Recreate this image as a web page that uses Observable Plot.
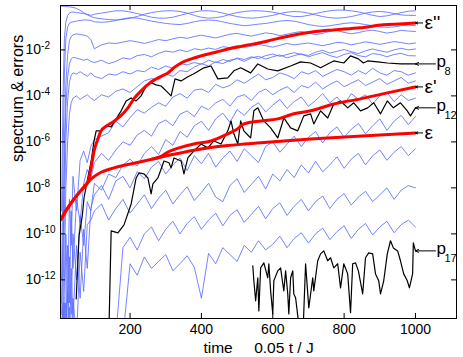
<!DOCTYPE html>
<html><head><meta charset="utf-8">
<script src="https://cdn.jsdelivr.net/npm/d3@7"></script>
<script src="https://cdn.jsdelivr.net/npm/@observablehq/plot@0.6"></script>
<style>body{margin:0;background:#fff;}</style>
</head><body><div id="chart"></div>
<script>
// common time grid for the blue spectrum lines (values are log10 of the value)
const T = [8,12,16,20,25,30,35,40,50,60,70,80,90,
 100,120,140,160,180,200,220,240,260,280,
 300,320,340,360,380,400,420,440,460,480,
 500,520,540,560,580,600,620,640,660,680,
 700,720,740,760,780,800,820,840,860,880,
 900,920,940,960,980,1000];

const p1 = [-0.1,-0.1,-0.11,-0.12,-0.12,-0.13,-0.14,-0.15,-0.2,-0.28,-0.38,-0.48,-0.55,
 -0.6,-0.65,-0.68,-0.7,-0.68,-0.62,-0.55,-0.45,-0.38,-0.33,
 -0.3,-0.3,-0.33,-0.4,-0.5,-0.58,-0.62,-0.6,-0.55,-0.45,
 -0.38,-0.33,-0.3,-0.3,-0.32,-0.36,-0.42,-0.5,-0.55,-0.55,
 -0.5,-0.42,-0.35,-0.3,-0.27,-0.27,-0.3,-0.35,-0.42,-0.5,
 -0.55,-0.52,-0.45,-0.38,-0.32,-0.3];
const p2 = [-9,-4,-1.5,-0.8,-0.5,-0.4,-0.36,-0.35,-0.38,-0.4,-0.42,-0.45,-0.5,
 -0.45,-0.4,-0.35,-0.3,-0.3,-0.35,-0.42,-0.5,-0.58,-0.62,
 -0.62,-0.58,-0.5,-0.42,-0.35,-0.3,-0.3,-0.33,-0.4,-0.48,
 -0.55,-0.6,-0.62,-0.6,-0.55,-0.5,-0.42,-0.36,-0.33,-0.35,
 -0.4,-0.48,-0.55,-0.6,-0.62,-0.6,-0.55,-0.48,-0.4,-0.35,
 -0.33,-0.36,-0.42,-0.48,-0.5,-0.5];
const p3 = [-12,-7,-3,-1.5,-1.0,-0.85,-0.8,-0.78,-0.75,-0.72,-0.7,-0.7,-0.72,
 -0.78,-0.8,-0.78,-0.72,-0.65,-0.6,-0.62,-0.68,-0.75,-0.8,
 -0.85,-0.88,-0.9,-0.85,-0.78,-0.72,-0.7,-0.72,-0.78,-0.85,
 -0.9,-0.95,-0.92,-0.88,-0.85,-0.8,-0.75,-0.72,-0.75,-0.82,
 -0.9,-0.95,-0.98,-0.95,-0.9,-0.85,-0.82,-0.85,-0.9,-0.95,
 -1.0,-1.02,-1.0,-0.95,-0.92,-0.95];
const p4 = [-13,-10,-6,-3.5,-2.2,-1.6,-1.42,-1.35,-1.3,-1.33,-1.36,-1.4,-1.55,
 -1.95,-1.78,-1.7,-1.72,-1.66,-1.6,-1.65,-1.72,-1.64,-1.55,
 -1.6,-1.52,-1.45,-1.5,-1.42,-1.36,-1.42,-1.48,-1.4,-1.32,
 -1.28,-1.35,-1.4,-1.33,-1.26,-1.3,-1.38,-1.32,-1.25,-1.2,
 -1.27,-1.34,-1.28,-1.2,-1.16,-1.24,-1.3,-1.25,-1.18,-1.14,
 -1.2,-1.27,-1.22,-1.15,-1.18,-1.2];
const p5 = [-13.5,-11,-7,-4.5,-3.2,-2.6,-2.4,-2.32,-2.36,-2.4,-2.45,-2.4,-2.5,
 -2.55,-2.45,-2.6,-2.5,-2.35,-2.4,-2.25,-2.2,-2.3,-2.15,
 -2.05,-2.1,-2.0,-2.08,-1.95,-2.0,-1.92,-1.98,-1.86,-1.9,
 -1.82,-1.88,-1.85,-1.76,-1.82,-1.88,-1.8,-1.72,-1.78,-1.74,
 -1.7,-1.76,-1.82,-1.75,-1.67,-1.7,-1.78,-1.72,-1.65,-1.7,
 -1.76,-1.7,-1.64,-1.68,-1.74,-1.7];
const p6 = [-14,-13,-9,-6,-4.2,-3.4,-3.1,-3.0,-3.05,-2.95,-3.05,-3.15,-3.0,
 -3.15,-3.25,-3.05,-3.1,-2.95,-3.05,-2.9,-2.95,-2.75,-2.85,
 -2.7,-2.8,-2.6,-2.65,-2.55,-2.62,-2.45,-2.55,-2.42,-2.5,
 -2.35,-2.42,-2.3,-2.38,-2.25,-2.18,-2.28,-2.2,-2.12,-2.2,
 -2.24,-2.1,-2.02,-2.14,-2.06,-1.98,-2.08,-2.16,-2.04,-1.96,
 -2.04,-2.1,-2.0,-1.93,-2.0,-1.96];
const p7 = [-14.5,-14,-12,-8,-6,-4.8,-4.3,-4.1,-4.0,-4.15,-4.05,-3.95,-4.1,
 -4.2,-3.95,-4.05,-3.8,-3.7,-3.85,-3.6,-3.35,-3.25,-3.3,
 -3.05,-3.15,-2.9,-2.95,-2.75,-2.6,-2.7,-2.52,-2.6,-2.45,
 -2.38,-2.5,-2.35,-2.28,-2.4,-2.3,-2.22,-2.35,-2.25,-2.17,
 -2.3,-2.2,-2.12,-2.25,-2.33,-2.2,-2.12,-2.25,-2.3,-2.16,
 -2.2,-2.3,-2.2,-2.15,-2.25,-2.26];
const p9 = [-14.5,-13,-14.5,-10,-13,-8.5,-10.5,-7.5,-9,-6.8,-6.4,-6.9,-6.2,
 -5.9,-5.75,-5.6,-5.1,-5.35,-4.95,-4.6,-4.75,-4.5,-4.3,
 -4.45,-4.05,-3.9,-4.1,-3.75,-3.7,-3.85,-3.5,-3.65,-3.55,
 -3.3,-3.45,-3.25,-3.05,-3.3,-3.2,-3.0,-3.1,-3.25,-2.95,
 -3.05,-2.9,-3.15,-3.0,-2.85,-2.95,-3.1,-2.9,-3.05,-2.8,
 -3.0,-3.1,-2.9,-2.95,-3.1,-3.0];
const p10 = [-14.5,-14.5,-13,-14.5,-10.5,-13,-9,-11.5,-8.5,-9.5,-7.8,-7.2,-7.6,
 -6.9,-6.5,-6.8,-6.35,-6.0,-6.15,-5.7,-5.5,-5.75,-5.2,
 -5.05,-5.3,-4.8,-4.65,-4.9,-4.45,-4.6,-4.3,-4.15,-4.45,
 -4.05,-3.95,-4.2,-3.85,-3.7,-3.95,-3.75,-3.6,-3.85,-3.55,
 -3.65,-3.4,-3.7,-3.5,-3.35,-3.6,-3.45,-3.3,-3.55,-3.4,
 -3.25,-3.5,-3.35,-3.2,-3.45,-3.35];
const p11 = [-14.5,-14.5,-14.5,-13,-14.5,-11,-13.5,-10,-12,-9.2,-10.5,-8.6,-9.0,
 -7.8,-8.1,-7.4,-7.55,-7.0,-6.75,-7.05,-6.5,-6.2,-6.55,
 -5.9,-6.15,-5.55,-5.8,-5.3,-5.1,-5.5,-5.0,-4.75,-5.15,
 -4.6,-4.85,-4.5,-4.3,-4.7,-4.4,-4.15,-4.55,-4.25,-4.05,
 -4.45,-4.2,-3.9,-4.3,-4.05,-4.4,-3.9,-4.15,-3.95,-4.35,
 -4.0,-3.85,-4.25,-3.95,-4.2,-4.1];
const p13 = [-14.5,-13.5,-14.5,-14.5,-12.5,-14.5,-11.5,-13.8,-10.5,-12.8,-9.8,-11.5,-8.9,
 -8.3,-7.9,-8.5,-7.7,-7.5,-8.0,-7.3,-7.6,-7.1,-6.85,
 -7.4,-7.0,-6.7,-7.25,-6.6,-6.95,-6.5,-7.1,-6.7,-6.4,
 -6.85,-6.3,-6.6,-6.9,-6.2,-6.0,-6.45,-6.1,-5.75,-6.2,
 -5.8,-5.55,-6.05,-5.6,-5.35,-5.8,-5.45,-5.2,-5.65,-5.3,
 -5.0,-5.5,-5.1,-4.85,-5.25,-4.9];
const p14 = [-14.5,-14.5,-14.5,-14.5,-14.5,-13.2,-14.5,-12.8,-14.5,-10.8,-12.5,-9.6,-9.4,
 -9.0,-8.7,-9.4,-8.9,-8.5,-9.1,-8.7,-8.3,-8.9,-8.45,
 -8.1,-8.7,-8.3,-7.95,-8.55,-8.2,-7.8,-8.4,-8.6,-7.9,
 -7.6,-8.2,-7.85,-7.5,-8.05,-7.4,-7.7,-7.2,-7.55,-7.0,
 -7.35,-6.85,-7.3,-7.0,-6.65,-7.15,-6.75,-6.5,-7.0,-6.6,
 -6.35,-6.8,-6.45,-6.2,-6.6,-6.3];
const p15 = [null,null,null,null,null,null,null,null,null,null,null,null,null,
 null,null,null,-14.5,-10.6,-10.15,-10.7,-10.0,-9.7,-10.3,
 -9.8,-9.45,-10.0,-9.55,-9.25,-9.8,-9.4,-9.1,-9.65,-9.2,
 -8.95,-9.5,-9.15,-8.8,-9.35,-8.9,-8.65,-9.2,-8.8,-8.5,
 -9.0,-8.6,-8.35,-8.9,-8.5,-8.25,-8.75,-8.4,-8.15,-8.6,
 -8.3,-8.0,-8.5,-8.1,-7.9,-8.0];
const p16 = [null,null,null,null,null,null,null,null,null,null,null,null,null,
 null,null,null,null,-14.5,-11.3,-11.8,-11.0,-11.5,-11.2,
 -10.9,-11.6,-11.3,-10.95,-11.45,-12.8,-10.85,-11.3,-10.6,-10.9,
 -11.2,-10.5,-10.8,-10.3,-10.7,-10.45,-10.1,-10.6,-10.2,-9.95,
 -10.4,-10.0,-9.75,-10.25,-9.9,-9.65,-10.2,-9.8,-9.55,-10.05,
 -9.7,-9.45,-9.95,-9.6,-9.4,-9.7];

// black spectrum lines p8, p12, p17
const p8T = [49,57,66,71,80,91,99,105,119,133,147,161,175,189,203,217,231,245,259,273,287,301,315,326,343,362,379,407,427,446,474,491,510,538,558,586,614,650,678,706,734,754,771,799,818,840,854,866,894,921,958,1000];
const p8E = [-12.83,-10.09,-9.22,-8.43,-7.70,-6.83,-5.96,-5.52,-5.52,-5.30,-5.35,-5.0,-4.65,-4.22,-4.09,-4.22,-4.0,-3.57,-3.43,-3.52,-3.57,-3.78,-4.0,-3.26,-3.35,-3.17,-3.04,-2.78,-2.70,-3.26,-3.22,-2.91,-2.78,-3.0,-2.61,-2.83,-2.91,-2.70,-2.52,-2.57,-2.78,-2.61,-2.48,-2.57,-2.26,-2.39,-2.57,-2.48,-2.52,-2.57,-2.61,-2.61];
const p12T = [141,147,166,183,203,217,225,239,250,259,264,278,295,309,315,323,343,351,362,379,399,418,435,455,474,483,491,502,510,519,538,547,558,575,594,614,631,650,670,687,706,715,734,754,771,790,810,827,846,866,883,902,921,938,958,977,986,1000];
const p12E = [-14,-9.87,-9.96,-9.61,-8.70,-7.57,-7.35,-7.39,-7.57,-8.26,-7.83,-7.57,-6.83,-6.91,-7.13,-6.70,-6.83,-7.39,-6.70,-6.39,-6.09,-6.26,-5.96,-6.09,-5.52,-5.09,-5.65,-6.09,-5.09,-5.52,-5.83,-4.65,-4.52,-5.09,-5.39,-5.83,-4.96,-5.39,-5.52,-4.87,-4.78,-5.22,-4.65,-4.96,-4.35,-4.22,-4.52,-4.30,-4.65,-4.52,-4.30,-4.78,-4.22,-4.52,-4.30,-4.65,-4.87,-4.52];
const p17T = [544,547,552,558,561,566,575,586,589,594,600,603,614,622,628,631,636,642,645,650,656,659,664,675,685,692,701,712,715,726,734,743,754,762,771,782,790,799,810,818,824,832,840,852,860,869,880,888,897,902,911,921,930,938,950,958,967,977,983,992,994,1000];
const p17E = [-11.39,-12.04,-12.91,-11.91,-13.35,-11.48,-11.26,-11.91,-11.30,-12.48,-13.48,-12.04,-11.61,-11.48,-12.17,-12.48,-11.61,-12.61,-13.48,-11.91,-11.61,-12.61,-12.78,-14.2,-14.2,-11.30,-13.22,-11.91,-12.48,-11.17,-10.87,-10.74,-11.17,-11.04,-11.48,-11.30,-12.35,-11.30,-11.74,-13.43,-11.30,-11.26,-11.61,-12.61,-11.04,-10.83,-10.87,-11.74,-12.04,-12.61,-12.04,-10.87,-10.30,-10.61,-10.74,-11.17,-11.74,-12.04,-12.35,-11.74,-10.39,-10.74];

// red error curves
const epsT = [7,20,35,50,63,82,100,119,140,166,211,259,315,379,474,566,706,850,1000];
const epsE = [-9.35,-9.0,-8.65,-8.35,-8.1,-7.75,-7.5,-7.32,-7.2,-7.08,-6.93,-6.76,-6.56,-6.36,-6.16,-6.04,-5.88,-5.74,-5.61];
const eps1T = [259,287,305,340,379,427,474,502,519,566,614,659,706,771,846,921,1000];
const eps1E = [-6.76,-6.63,-6.45,-6.25,-6.09,-5.96,-5.65,-5.43,-5.22,-5.09,-5.0,-4.78,-4.65,-4.35,-4.13,-3.87,-3.61];
const eps2T = [7,20,35,50,63,82,91,99,110,119,135,155,175,194,212,231,259,287,306,325,343,370,399,445,491,540,586,630,678,720,771,846,910,955,1000];
const eps2E = [-9.35,-9.0,-8.65,-8.35,-8.1,-7.75,-7.1,-6.4,-5.87,-5.52,-5.3,-5.1,-4.85,-4.52,-4.1,-3.78,-3.4,-3.15,-3.0,-2.75,-2.57,-2.4,-2.26,-2.08,-1.91,-1.76,-1.61,-1.45,-1.30,-1.2,-1.13,-1.04,-0.91,-0.87,-0.83];

// ticks and labels
const xTicks = [200,400,600,800,1000];
const yTicks = [1e-12,1e-10,1e-8,1e-6,1e-4,1e-2];
const labelText = ["ε''","p","ε'","p","ε","p"];
const labelSub = ["","8","","12","","17"];
const xTitle = "time\u00a0\u00a0\u00a0\u00a0\u00a00.05 t / J";
const yTitle = "spectrum & errors";

// ---- build tables ----
const blueList = [["p1",p1],["p2",p2],["p3",p3],["p4",p4],["p5",p5],["p6",p6],["p7",p7],["p9",p9],["p10",p10],["p11",p11],["p13",p13],["p14",p14],["p15",p15],["p16",p16]];
const blueRows = [];
for (const [s, arr] of blueList) arr.forEach((e, i) => { if (e != null) blueRows.push({t: T[i], v: 10 ** e, s}); });
const toRows = (s, ts, es) => ts.map((t, i) => ({t, v: 10 ** es[i], s}));
const blackRows = [...toRows("p8", p8T, p8E), ...toRows("p12", p12T, p12E), ...toRows("p17", p17T, p17E)];
const redRows = [...toRows("eps", epsT, epsE), ...toRows("eps1", eps1T, eps1E), ...toRows("eps2", eps2T, eps2E)];
const labelSeries = [[eps2T,eps2E],[p8T,p8E],[eps1T,eps1E],[p12T,p12E],[epsT,epsE],[p17T,p17E]];
const labelRows = labelSeries.map(([ts, es], i) => {
  const kind = labelText[i] === "p" ? "p" : "e";
  const x2 = ts[ts.length - 1];
  return {name: labelText[i], sub: labelSub[i], kind, x2, x1: x2 + (kind === "p" ? 56 : 20), y: 10 ** es[es.length - 1]};
});

const xMin = 5, xMax = 1115, yMin = 10 ** -13.68, yMax = 10 ** -0.07;
const tk = 10 ** 0.22, tx = 14;

const chart = Plot.plot({
  width: 463, height: 357,
  marginLeft: 60, marginRight: 7, marginTop: 5, marginBottom: 39,
  style: {fontFamily: "'Liberation Sans', Arial, Helvetica, sans-serif", fontSize: "14px", background: "#fff", color: "#000"},
  x: {domain: [xMin, xMax], ticks: xTicks, tickSize: 0, tickPadding: 6, label: null, tickFormat: d => String(d)},
  y: {type: "log", domain: [yMin, yMax], ticks: yTicks, tickSize: 0, tickPadding: 35, label: null,
      tickFormat: d => "10^-" + Math.round(-Math.log10(d))},
  marks: [
    Plot.line(blueRows, {x: "t", y: "v", z: "s", stroke: "#5c6eff", strokeWidth: 0.85, clip: true}),
    Plot.line(blackRows, {x: "t", y: "v", z: "s", stroke: "#000", strokeWidth: 1.2, clip: true}),
    Plot.line(redRows, {x: "t", y: "v", z: "s", stroke: "#ff0000", strokeWidth: 3, curve: "monotone-x", clip: true}),
    Plot.ruleX(xTicks, {x: d => d, y1: yMin, y2: yMin * tk, stroke: "#000"}),
    Plot.ruleX(xTicks, {x: d => d, y1: yMax, y2: yMax / tk, stroke: "#000"}),
    Plot.ruleY(yTicks, {y: d => d, x1: xMin, x2: xMin + tx, stroke: "#000"}),
    Plot.ruleY(yTicks, {y: d => d, x1: xMax, x2: xMax - tx, stroke: "#000"}),
    Plot.frame({stroke: "#000"}),
    Plot.arrow(labelRows, {x1: "x1", y1: "y", x2: "x2", y2: "y", headLength: 5, headAngle: 50, strokeWidth: 1, stroke: "#000"}),
    Plot.text(labelRows.filter(d => d.kind === "e"), {x: "x1", y: "y", text: "name", textAnchor: "start", dx: 2, dy: 0, fontSize: 19, fill: "#000"}),
    Plot.text(labelRows.filter(d => d.kind === "p"), {x: "x1", y: "y", text: "name", textAnchor: "start", dx: 1, dy: -2, fontSize: 17, fill: "#000"}),
    Plot.text(labelRows.filter(d => d.kind === "p"), {x: "x1", y: "y", text: "sub", textAnchor: "start", dx: 9, dy: 8, fontSize: 11, fill: "#000"}),
    Plot.text([xTitle], {frameAnchor: "bottom", lineAnchor: "bottom", text: d => d, dy: 34, fontSize: 15.5, fill: "#000"}),
    Plot.text([yTitle], {frameAnchor: "left", rotate: -90, text: d => d, dx: -43, fontSize: 16, fill: "#000"})
  ]
});

// superscript exponents on the y tick labels
d3.select(chart).selectAll('g[aria-label="y-axis tick label"] text').each(function () {
  const s = this.textContent;
  const [b, ex] = s.split("^");
  const sel = d3.select(this);
  sel.text(null).attr("text-anchor", "start");
  sel.append("tspan").text(b);
  sel.append("tspan").attr("dy", "-5").attr("font-size", "10").text(ex);
});

document.getElementById("chart").appendChild(chart);
</script>
</body></html>
